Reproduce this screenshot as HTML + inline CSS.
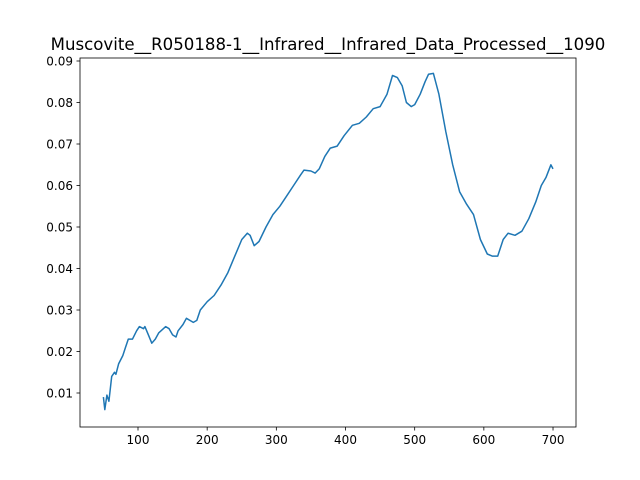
<!DOCTYPE html>
<html><head><meta charset="utf-8"><style>body{margin:0;background:#fff}svg{display:block}text{font-family:"DejaVu Sans","Liberation Sans",sans-serif;fill:#000}</style></head>
<body>
<svg id="chart" width="640" height="480">
<rect width="640" height="480" fill="#fff"/>
<text x="328" y="50" font-size="16.6" text-anchor="middle">Muscovite__R050188-1__Infrared__Infrared_Data_Processed__1090</text>
<g id="axes"></g>
</svg>
<script>
const xs=[50,52,55,58,62,66,68,72,78,82,86,92,98,102,108,110,115,120,125,130,140,145,150,155,158,165,170,175,180,185,190,200,210,220,230,240,250,258,262,268,275,285,295,305,315,325,335,340,350,356,362,370,378,388,398,410,420,430,440,450,460,468,475,482,488,495,500,508,515,520,527,535,545,555,565,575,585,595,605,612,620,628,635,645,655,665,675,683,690,697,700];
const ys=[0.009,0.006,0.0095,0.008,0.014,0.015,0.0145,0.017,0.019,0.021,0.023,0.023,0.025,0.026,0.0255,0.026,0.024,0.022,0.023,0.0245,0.026,0.0255,0.024,0.0235,0.025,0.0265,0.028,0.0275,0.027,0.0275,0.030,0.032,0.0335,0.036,0.039,0.043,0.047,0.0485,0.048,0.0455,0.0465,0.050,0.053,0.055,0.0575,0.060,0.0625,0.0637,0.0635,0.063,0.064,0.067,0.069,0.0695,0.072,0.0745,0.075,0.0765,0.0785,0.079,0.082,0.0865,0.086,0.084,0.080,0.079,0.0795,0.082,0.085,0.0868,0.087,0.082,0.073,0.065,0.0585,0.0555,0.053,0.047,0.0435,0.043,0.043,0.047,0.0485,0.048,0.049,0.052,0.056,0.060,0.062,0.065,0.064];
const xTicks=[100,200,300,400,500,600,700];
const yTicks=[0.01,0.02,0.03,0.04,0.05,0.06,0.07,0.08,0.09];
const L=80,R=576,T=58,B=427;
const X=v=>138+(v-100)*0.6917;
const Y=v=>393-(v-0.01)*4150;
const NS="http://www.w3.org/2000/svg";
const g=document.getElementById('axes');
function mk(t,a){const e=document.createElementNS(NS,t);for(const k in a)e.setAttribute(k,a[k]);g.appendChild(e);return e;}
const frame=mk('rect',{x:L,y:T,width:R-L,height:B-T,fill:'none',stroke:'#000','stroke-width':0.8});


xTicks.forEach(v=>{
  const tk=mk('line',{x1:X(v),x2:X(v),y1:B,y2:B+3.5,stroke:'#000','stroke-width':0.8});
  
  
  const t=mk('text',{x:X(v),y:B+17,'font-size':12,'text-anchor':'middle'});t.textContent=v;
  
  
});
yTicks.forEach(v=>{
  const tk=mk('line',{x1:L-3.5,x2:L,y1:Y(v),y2:Y(v),stroke:'#000','stroke-width':0.8});
  
  
  const t=mk('text',{x:L-7,y:Y(v)+4.5,'font-size':12,'text-anchor':'end'});t.textContent=v.toFixed(2);
  
  
});
const line=mk('polyline',{points:xs.map((x,i)=>X(x).toFixed(1)+','+Y(ys[i]).toFixed(1)).join(' '),fill:'none',stroke:'#1f77b4','stroke-width':1.5,'stroke-linejoin':'round'});


</script>
</body></html>
